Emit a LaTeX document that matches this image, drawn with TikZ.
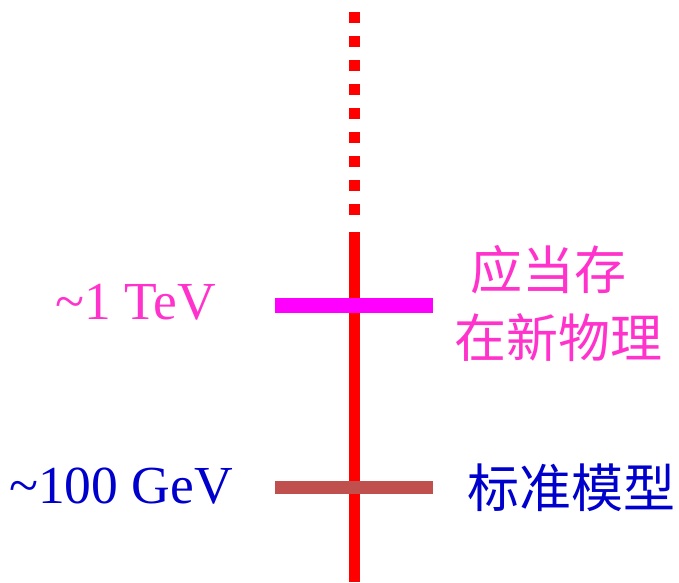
\documentclass[tikz,border=0pt]{standalone}
\usepackage{fontspec}
\setmainfont{Liberation Serif}
\newfontfamily\cjk{Noto Sans CJK SC}
\usetikzlibrary{positioning}
\definecolor{scalered}{RGB}{255,0,0}
\definecolor{tevbar}{RGB}{255,0,255}
\definecolor{tevtext}{RGB}{255,51,204}
\definecolor{gevbar}{RGB}{192,80,77}
\definecolor{gevtext}{RGB}{0,0,204}
\tikzset{
  energy/.style={font=\fontsize{53.5}{62}\selectfont},
  label/.style={font=\cjk\fontsize{52}{62}\selectfont},
}

\begin{document}
\begin{tikzpicture}[x=1pt,y=-1pt]
        \useasboundingbox (0,0) rectangle (679,582);
        % energy axis
        \coordinate (top) at (354,12);
        \coordinate (gap) at (354,216);
        \coordinate (cut) at (354,232);
        \coordinate (bottom) at (354,582);
        \draw[scalered,line width=11pt,dash pattern=on 11pt off 13pt] (top) -- (gap);
        \draw[scalered,line width=11pt] (cut) -- (bottom);
        % scales
        \coordinate (tevL) at (275,305);
        \coordinate (tevR) at (433,305);
        \coordinate (gevL) at (275,487);
        \coordinate (gevR) at (433,487);
        \draw[tevbar,line width=15pt] (tevL) -- (tevR);
        \draw[gevbar,line width=13pt] (gevL) -- (gevR);
        \node[energy,tevtext,anchor=center] (tev) at (136,302) {\textasciitilde1 TeV};
        \node[energy,gevtext,anchor=center] (gev) at (121,486) {\textasciitilde100 GeV};
        \node[label,tevtext] (newphys1) at (548,270) {应当存};
        \node[label,tevtext] (newphys2) at (558,338) {在新物理};
        \node[label,gevtext] (sm) at (571,488) {标准模型};
    \end{tikzpicture}
\end{document}
